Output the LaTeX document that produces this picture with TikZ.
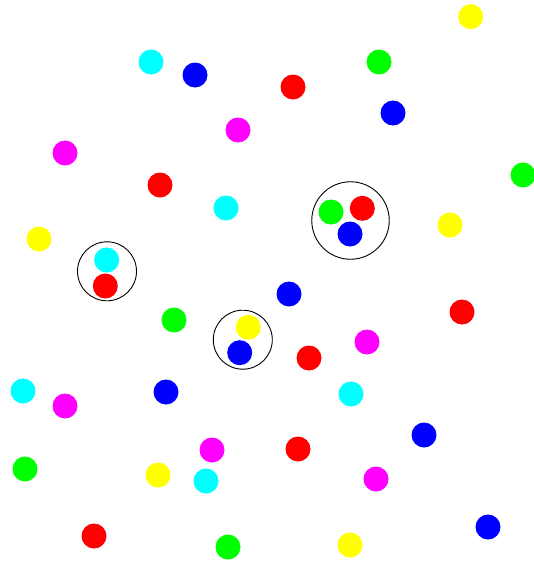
\documentclass[tikz,border=0pt]{standalone}
\definecolor{cR}{RGB}{255,0,0}
\definecolor{cG}{RGB}{0,255,0}
\definecolor{cB}{RGB}{0,0,255}
\definecolor{cC}{RGB}{0,255,255}
\definecolor{cM}{RGB}{255,0,255}
\definecolor{cY}{RGB}{255,255,0}
\begin{document}
\begin{tikzpicture}[x=1pt,y=-1pt,
  dot/.style={circle,inner sep=0pt,minimum size=25pt,draw=none,fill=#1},
  ring/.style={circle,inner sep=0pt,draw=black,line width=0.9pt,minimum size=#1}]
\useasboundingbox[fill=white] (0,0) rectangle (534,565);
% groups (rings)
\node[ring=77.5pt] (g1) at (350.5,220.5) {};
\node[ring=59pt] (g2) at (107,271.3) {};
\node[ring=59pt] (g3) at (242.8,339.7) {};
% dots
\node[dot=cY] (d1) at (470.7,16.7) {};
\node[dot=cC] (d2) at (151,62) {};
\node[dot=cB] (d3) at (195,75) {};
\node[dot=cG] (d4) at (379,62) {};
\node[dot=cR] (d5) at (293,87) {};
\node[dot=cB] (d6) at (393,113) {};
\node[dot=cM] (d7) at (238,130) {};
\node[dot=cM] (d8) at (65,153) {};
\node[dot=cG] (d9) at (523,175) {};
\node[dot=cR] (d10) at (160,185) {};
\node[dot=cC] (d11) at (226,208) {};
\node[dot=cG] (d12) at (331,212) {};
\node[dot=cR] (d13) at (362.3,208.3) {};
\node[dot=cB] (d14) at (350,234) {};
\node[dot=cY] (d15) at (450,225) {};
\node[dot=cY] (d16) at (39,239) {};
\node[dot=cC] (d17) at (106.7,260) {};
\node[dot=cR] (d18) at (105.3,286) {};
\node[dot=cB] (d19) at (289,294) {};
\node[dot=cR] (d20) at (462,312) {};
\node[dot=cG] (d21) at (174,320) {};
\node[dot=cY] (d22) at (248.3,327.3) {};
\node[dot=cB] (d23) at (239.7,352.7) {};
\node[dot=cR] (d24) at (309,358) {};
\node[dot=cM] (d25) at (367,342) {};
\node[dot=cC] (d26) at (23,391) {};
\node[dot=cM] (d27) at (65,406) {};
\node[dot=cB] (d28) at (166,392) {};
\node[dot=cC] (d29) at (351,394) {};
\node[dot=cB] (d30) at (424,435) {};
\node[dot=cM] (d31) at (212,450) {};
\node[dot=cR] (d32) at (298,449) {};
\node[dot=cG] (d33) at (25,469) {};
\node[dot=cY] (d34) at (158,475) {};
\node[dot=cC] (d35) at (206,481) {};
\node[dot=cM] (d36) at (376,479) {};
\node[dot=cB] (d37) at (488,527) {};
\node[dot=cR] (d38) at (94,536) {};
\node[dot=cG] (d39) at (228,547) {};
\node[dot=cY] (d40) at (350,545) {};
\end{tikzpicture}
\end{document}
